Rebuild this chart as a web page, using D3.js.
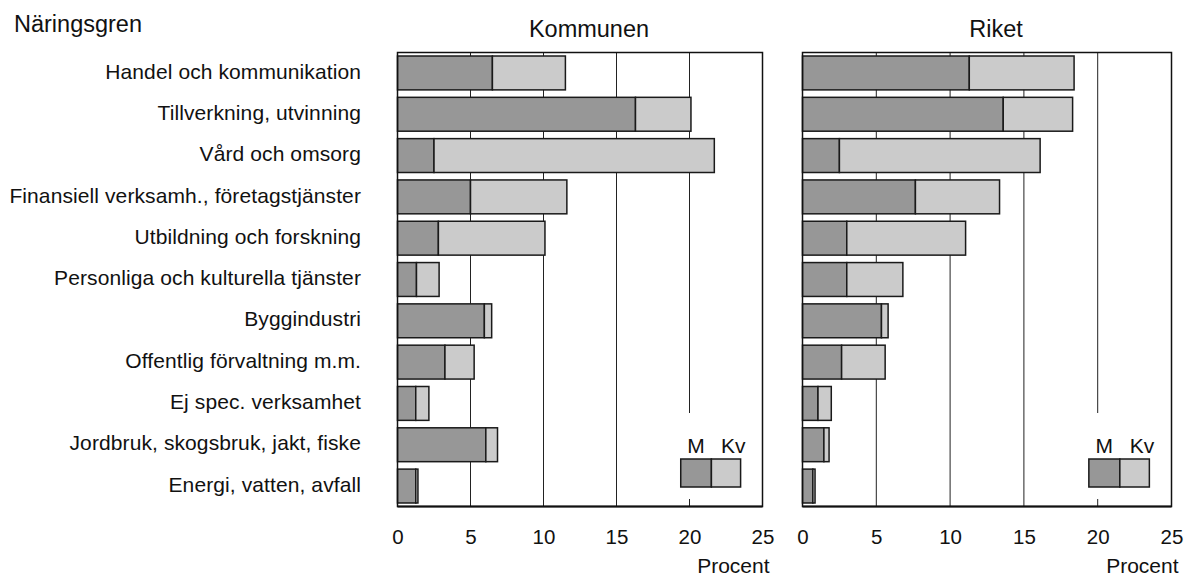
<!DOCTYPE html>
<html>
<head>
<meta charset="utf-8">
<script src="https://cdn.jsdelivr.net/npm/d3@7"></script>
<style>
  body { margin: 0; background: #fff; }
  svg text { font-family: "Liberation Sans", Arial, sans-serif; fill: #111; }
</style>
</head>
<body>
<svg id="chart" width="1184" height="576"></svg>
<script>
const categories = [
  "Handel och kommunikation",
  "Tillverkning, utvinning",
  "Vård och omsorg",
  "Finansiell verksamh., företagstjänster",
  "Utbildning och forskning",
  "Personliga och kulturella tjänster",
  "Byggindustri",
  "Offentlig förvaltning m.m.",
  "Ej spec. verksamhet",
  "Jordbruk, skogsbruk, jakt, fiske",
  "Energi, vatten, avfall"
];

// procent, män / kvinnor
const kommunenM  = [6.5, 16.3, 2.5, 5.0, 2.8, 1.3, 5.95, 3.25, 1.25, 6.05, 1.25];
const kommunenKv = [5.0, 3.8, 19.2, 6.6, 7.3, 1.55, 0.5, 2.0, 0.9, 0.8, 0.15];
const riketM  = [11.3, 13.6, 2.5, 7.65, 3.0, 3.0, 5.35, 2.65, 1.05, 1.45, 0.7];
const riketKv = [7.1, 4.7, 13.6, 5.7, 8.05, 3.8, 0.45, 2.95, 0.9, 0.35, 0.15];

const ticks = [0, 5, 10, 15, 20, 25];
const legendLabels = ["M", "Kv"];

const colorM = "#979797";
const colorKv = "#cbcbcb";
const headSize = "23.5px";
const labelSize = "21px";
const tickSize = "20.5px";

let svg = d3.select("#chart");

let plotTop = 52.5, plotBottom = 506.5;

let y = d3.scaleBand()
  .domain(categories)
  .range([plotTop, plotBottom])
  .paddingInner(0.18)
  .paddingOuter(0.085);

// kategori-etiketter
svg.append("text")
  .attr("x", 14)
  .attr("y", 32)
  .style("font-size", headSize)
  .text("Näringsgren");

svg.append("g")
  .selectAll("text")
  .data(categories)
  .enter().append("text")
    .attr("x", 361)
    .attr("y", d => y(d) + y.bandwidth() / 2)
    .attr("dy", "0.27em")
    .attr("text-anchor", "end")
    .style("font-size", labelSize)
    .style("letter-spacing", "0.1px")
    .text(d => d);

const drawPanel = (title, x0, x1, men, women) => {
  let x = d3.scaleLinear().domain([0, 25]).range([x0, x1]);
  let g = svg.append("g");

  g.append("text")
    .attr("x", (x0 + x1) / 2 + 9)
    .attr("y", 37)
    .attr("text-anchor", "middle")
    .style("font-size", headSize)
    .text(title);

  // stödlinjer, 20-linjen bryts runt teckenförklaringen
  let legTop = 459, legH = 28;
  ticks.slice(1, -1).forEach(t => {
    if (t === 20) {
      g.append("line")
        .attr("x1", x(t)).attr("x2", x(t))
        .attr("y1", plotTop).attr("y2", legTop - 46)
        .attr("stroke", "#222").attr("stroke-width", 1);
      g.append("line")
        .attr("x1", x(t)).attr("x2", x(t))
        .attr("y1", legTop + legH + 12).attr("y2", plotBottom)
        .attr("stroke", "#222").attr("stroke-width", 1);
    } else {
      g.append("line")
        .attr("x1", x(t)).attr("x2", x(t))
        .attr("y1", plotTop).attr("y2", plotBottom)
        .attr("stroke", "#222").attr("stroke-width", 1);
    }
  });

  let rows = categories.map((c, i) => ({ c, m: men[i], kv: women[i] }));

  g.selectAll(".bar-m")
    .data(rows)
    .enter().append("rect")
      .attr("class", "bar-m")
      .attr("x", x(0))
      .attr("y", d => y(d.c))
      .attr("width", d => x(d.m) - x(0))
      .attr("height", y.bandwidth())
      .attr("fill", colorM)
      .attr("stroke", "#1a1a1a")
      .attr("stroke-width", 1.5);

  g.selectAll(".bar-kv")
    .data(rows)
    .enter().append("rect")
      .attr("class", "bar-kv")
      .attr("x", d => x(d.m))
      .attr("y", d => y(d.c))
      .attr("width", d => x(d.m + d.kv) - x(d.m))
      .attr("height", y.bandwidth())
      .attr("fill", colorKv)
      .attr("stroke", "#1a1a1a")
      .attr("stroke-width", 1.5);

  // ram
  g.append("rect")
    .attr("x", x0).attr("y", plotTop)
    .attr("width", x1 - x0).attr("height", plotBottom - plotTop)
    .attr("fill", "none")
    .attr("stroke", "#111")
    .attr("stroke-width", 1.5);
  g.append("line")
    .attr("x1", x0).attr("x2", x1)
    .attr("y1", plotBottom).attr("y2", plotBottom)
    .attr("stroke", "#111").attr("stroke-width", 2);

  // x-axel
  let axis = g.append("g")
    .attr("transform", "translate(0," + plotBottom + ")")
    .call(d3.axisBottom(x).tickValues(ticks).tickSize(0).tickPadding(22.5));
  axis.select(".domain").remove();
  axis.selectAll("text")
    .style("font-size", tickSize)
    .style("font-family", "\"Liberation Sans\", Arial, sans-serif")
    .attr("fill", "#111");

  g.append("text")
    .attr("x", x1 + 7)
    .attr("y", 573)
    .attr("text-anchor", "end")
    .style("font-size", labelSize)
    .text("Procent");

  // teckenförklaring
  let leg = [[19.4, 21.5, colorM], [21.5, 23.5, colorKv]];
  g.selectAll(".leg")
    .data(leg)
    .enter().append("rect")
      .attr("class", "leg")
      .attr("x", d => x(d[0]))
      .attr("y", legTop)
      .attr("width", d => x(d[1]) - x(d[0]))
      .attr("height", legH)
      .attr("fill", d => d[2])
      .attr("stroke", "#1a1a1a")
      .attr("stroke-width", 1.5);

  g.selectAll(".leg-label")
    .data(legendLabels)
    .enter().append("text")
      .attr("class", "leg-label")
      .attr("x", (d, i) => x(i === 0 ? 20.45 : 23.0))
      .attr("y", legTop - 6)
      .attr("text-anchor", "middle")
      .style("font-size", labelSize)
      .text(d => d);
}

drawPanel("Kommunen", 397.5, 762.5, kommunenM, kommunenKv);
drawPanel("Riket", 802.5, 1171.5, riketM, riketKv);
</script>
</body>
</html>
